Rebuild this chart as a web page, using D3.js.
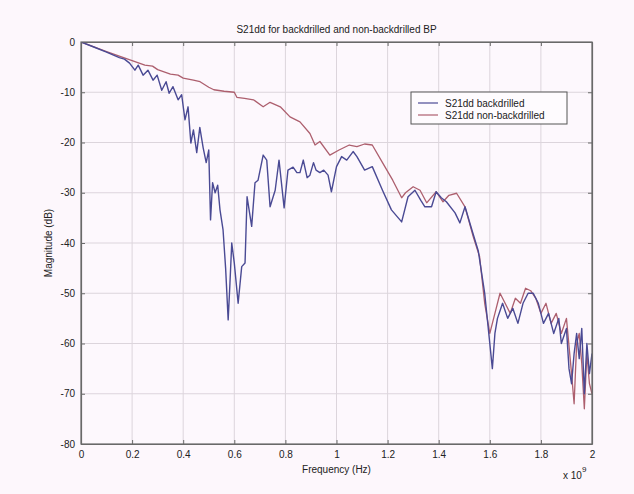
<!DOCTYPE html>
<html><head><meta charset="utf-8">
<script src="https://cdn.jsdelivr.net/npm/d3@7"></script>
<style>
html,body{margin:0;padding:0;background:#fdf7fc;}
svg{display:block;font-family:"Liberation Sans",Arial,sans-serif;}
</style></head>
<body><svg id="c" width="634" height="494"></svg>
<script>
const title = "S21dd for backdrilled and non-backdrilled BP";
const xLabel = "Frequency (Hz)";
const yLabel = "Magnitude (dB)";
const seriesNames = ["S21dd backdrilled", "S21dd non-backdrilled"];
const xTicks = [0,0.2,0.4,0.6,0.8,1,1.2,1.4,1.6,1.8,2];
const yTicks = [0,-10,-20,-30,-40,-50,-60,-70,-80];

// backdrilled (blue), frequency in units of 1e9 Hz
const freqBack = [0,0.05,0.1,0.15,0.17,0.19,0.211,0.224,0.243,0.262,0.282,0.298,0.316,0.333,0.345,0.36,0.38,0.394,0.407,0.419,0.43,0.44,0.453,0.465,0.478,0.49,0.5,0.507,0.515,0.525,0.535,0.544,0.556,0.566,0.576,0.583,0.59,0.6,0.615,0.629,0.642,0.65,0.668,0.681,0.693,0.713,0.727,0.74,0.76,0.775,0.795,0.81,0.83,0.845,0.857,0.87,0.885,0.896,0.91,0.92,0.935,0.95,0.967,0.98,1.0,1.02,1.04,1.065,1.08,1.11,1.14,1.18,1.215,1.255,1.28,1.307,1.33,1.346,1.372,1.39,1.41,1.43,1.464,1.483,1.503,1.53,1.555,1.58,1.6,1.61,1.62,1.63,1.65,1.67,1.69,1.71,1.73,1.75,1.77,1.79,1.81,1.83,1.85,1.87,1.88,1.9,1.91,1.92,1.93,1.94,1.95,1.96,1.97,1.98,1.99,2.0];
const magBack = [0,-1.0,-2.0,-3.1,-3.4,-4.2,-5.6,-4.6,-6.6,-5.6,-7.6,-6.6,-9.6,-7.9,-10.2,-8.9,-11.5,-10.5,-15.5,-12.9,-20.1,-17.5,-22,-17,-21,-24,-21.5,-35.4,-28,-30,-28.5,-33.4,-37.4,-45,-55.3,-48,-40,-44,-52,-44.7,-44,-30.8,-36.7,-28,-27.5,-22.5,-23.5,-32.8,-29.5,-23.5,-33,-25.5,-24.9,-26,-26,-23.5,-27,-26.5,-24,-25.5,-26,-25.5,-26.5,-29.8,-24.8,-22.8,-23.5,-21.8,-22.8,-25.5,-24.8,-29.5,-33.4,-35.8,-30.8,-29.5,-31.5,-32.8,-32.8,-29.8,-31,-31.8,-34,-36,-32.8,-37.4,-41.6,-50,-60,-65,-58,-55,-52,-55,-53,-56,-52,-50,-50,-52,-56,-54,-58,-55,-60,-57,-65,-68,-62,-58,-63,-57,-70,-60,-66,-62];

// non-backdrilled (red)
const freqNon = [0,0.1,0.15,0.2,0.25,0.28,0.3,0.35,0.38,0.4,0.44,0.466,0.5,0.52,0.56,0.6,0.61,0.64,0.675,0.713,0.74,0.78,0.818,0.857,0.896,0.916,0.935,0.974,1.01,1.05,1.08,1.11,1.14,1.18,1.22,1.255,1.27,1.3,1.327,1.353,1.39,1.417,1.44,1.47,1.503,1.535,1.56,1.58,1.6,1.62,1.64,1.66,1.68,1.7,1.72,1.74,1.76,1.78,1.8,1.82,1.84,1.86,1.88,1.9,1.92,1.93,1.94,1.95,1.96,1.97,1.98,1.99,2.0];
const magNon = [0,-1.9,-2.8,-3.7,-4.6,-4.8,-5.5,-6.4,-6.6,-7.2,-7.6,-7.9,-9.0,-9.5,-9.8,-10,-11,-11.2,-11.5,-12.9,-12,-12.9,-14.9,-15.9,-18.2,-20.5,-19.8,-22.5,-21.5,-20.5,-20.8,-20.3,-20.5,-24,-27.5,-31,-30,-28.8,-29.5,-32,-29.8,-31.8,-30.5,-30.1,-32.8,-38.7,-42.7,-52,-58,-54,-50,-52,-54,-51,-52,-49,-49.5,-51,-54,-52,-56,-54,-58,-55,-66,-72,-60,-58,-64,-73,-62,-68,-70];

const svg = d3.select("#c");
const L = 81, R = 592, T = 42, B = 444;
const x = d3.scaleLinear().domain([0,2]).range([L,R]);
const y = d3.scaleLinear().domain([-80,0]).range([B,T]);
const axisCol = "#6a6a6a", gridCol = "#dcd5dc";

svg.append("rect").attr("x",L).attr("y",T).attr("width",R-L).attr("height",B-T).attr("fill","#fdf8fd");

svg.append("g").selectAll("line").data(xTicks.slice(1,-1)).join("line")
  .attr("x1",d=>x(d)).attr("x2",d=>x(d)).attr("y1",T).attr("y2",B)
  .attr("stroke",gridCol).attr("stroke-width",1);
svg.append("g").selectAll("line").data(yTicks.slice(1,-1)).join("line")
  .attr("x1",L).attr("x2",R).attr("y1",d=>y(d)).attr("y2",d=>y(d))
  .attr("stroke",gridCol).attr("stroke-width",1);

const xAxisB = d3.axisBottom(x).tickValues(xTicks).tickFormat(d=>String(d)).tickSizeInner(-4).tickSizeOuter(0).tickPadding(7);
const xAxisT = d3.axisTop(x).tickValues(xTicks).tickFormat("").tickSizeInner(-4).tickSizeOuter(0);
const yAxisL = d3.axisLeft(y).tickValues(yTicks).tickFormat(d=>String(d)).tickSizeInner(-4).tickSizeOuter(0).tickPadding(6);
const yAxisR = d3.axisRight(y).tickValues(yTicks).tickFormat("").tickSizeInner(-4).tickSizeOuter(0);

function style(g){
  g.selectAll("path").attr("stroke",axisCol).attr("stroke-width",1.2);
  g.selectAll("line").attr("stroke",axisCol);
  g.selectAll("text").attr("fill","#222").attr("font-size",10).attr("font-family","Liberation Sans, Arial, sans-serif");
}
svg.append("g").attr("transform",`translate(0,${B})`).call(xAxisB).call(style);
svg.append("g").attr("transform",`translate(0,${T})`).call(xAxisT).call(style);
svg.append("g").attr("transform",`translate(${L},0)`).call(yAxisL).call(style);
svg.append("g").attr("transform",`translate(${R},0)`).call(yAxisR).call(style);

svg.append("clipPath").attr("id","clip").append("rect").attr("x",L).attr("y",T).attr("width",R-L).attr("height",B-T);

const line = d3.line().x(d=>x(d[0])).y(d=>y(d[1]));
const nonData = freqNon.map((f,i)=>[f,magNon[i]]);
const backData = freqBack.map((f,i)=>[f,magBack[i]]);
const colBack = "#4a4a94", colNon = "#ad5f6e";
svg.append("path").datum(nonData).attr("d",line).attr("fill","none")
  .attr("stroke",colNon).attr("stroke-width",1.3).attr("stroke-linejoin","round").attr("clip-path","url(#clip)");
svg.append("path").datum(backData).attr("d",line).attr("fill","none")
  .attr("stroke",colBack).attr("stroke-width",1.4).attr("stroke-linejoin","round").attr("clip-path","url(#clip)");

svg.append("rect").attr("x",L).attr("y",T).attr("width",R-L).attr("height",B-T)
  .attr("fill","none").attr("stroke",axisCol).attr("stroke-width",1.2);

svg.append("text").attr("x",(L+R)/2).attr("y",33).attr("text-anchor","middle")
  .attr("font-size",10).attr("fill","#222").text(title);
svg.append("text").attr("x",(L+R)/2).attr("y",473).attr("text-anchor","middle")
  .attr("font-size",10).attr("fill","#222").text(xLabel);
svg.append("text").attr("transform",`translate(52,${(T+B)/2}) rotate(-90)`).attr("text-anchor","middle")
  .attr("font-size",10).attr("fill","#222").text(yLabel);
const ex = svg.append("text").attr("x",563).attr("y",479).attr("font-size",10).attr("fill","#222");
ex.append("tspan").text("x 10");
ex.append("tspan").attr("dy",-7).attr("font-size",8).text("9");

const lg = svg.append("g").attr("transform","translate(411,92)");
lg.append("rect").attr("width",156).attr("height",32).attr("fill","#fefbfe").attr("stroke","#555").attr("stroke-width",1);
const cols = [colBack, colNon];
seriesNames.forEach((n,i)=>{
  const yy = 11 + i*12;
  lg.append("line").attr("x1",7).attr("x2",27).attr("y1",yy).attr("y2",yy).attr("stroke",cols[i]).attr("stroke-width",1.2);
  lg.append("text").attr("x",34).attr("y",yy+3.5).attr("font-size",10).attr("fill","#222").text(n);
});
</script></body></html>
